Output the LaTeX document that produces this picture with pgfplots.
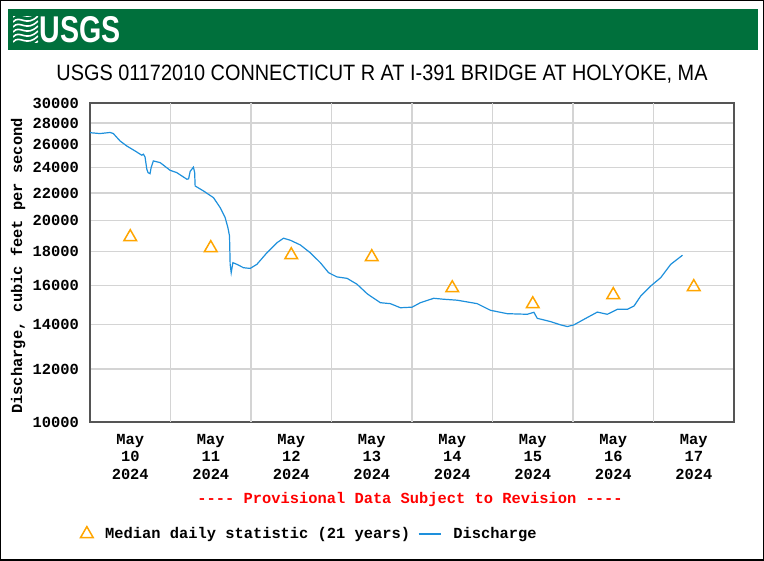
\documentclass[border=0pt]{standalone}
\usepackage{pgfplots}
\pgfplotsset{compat=1.18}
\usepackage{fontspec}
\setmainfont{Liberation Sans}
\newfontfamily\monofont{Liberation Mono}
\newcommand{\tickfont}{\monofont\bfseries\fontsize{15.4bp}{17.6bp}\selectfont}
\definecolor{usgsgreen}{RGB}{0,112,60}
\definecolor{qblue}{RGB}{30,144,220}
\definecolor{medorange}{RGB}{255,165,0}
\definecolor{gridgray}{RGB}{212,212,212}
\definecolor{framegray}{RGB}{85,85,85}

\pgfplotstableread{
d q
0.000 27080
0.124 27000
0.249 27100
0.290 27000
0.373 26320
0.456 25870
0.560 25430
0.643 25060
0.663 25150
0.684 24900
0.705 23900
0.721 23600
0.746 23520
0.759 24000
0.787 24570
0.871 24430
0.995 23790
1.078 23600
1.203 23070
1.225 23100
1.244 23700
1.285 24050
1.300 23600
1.306 22540
1.409 22160
1.534 21650
1.617 20920
1.679 20210
1.713 19530
1.733 18980
1.741 17210
1.754 16720
1.775 17310
1.825 17210
1.907 17010
1.990 16970
2.073 17210
2.198 17910
2.322 18540
2.404 18830
2.488 18700
2.612 18400
2.736 17910
2.861 17310
2.964 16720
3.068 16480
3.193 16400
3.317 16070
3.441 15560
3.483 15430
3.607 15080
3.731 15030
3.856 14820
4.001 14850
4.104 15080
4.270 15310
4.393 15260
4.561 15210
4.810 15030
4.975 14690
5.183 14520
5.432 14490
5.514 14590
5.556 14290
5.721 14130
5.846 13970
5.929 13890
6.011 13970
6.136 14240
6.302 14600
6.426 14490
6.551 14740
6.675 14740
6.758 14910
6.841 15430
6.965 15970
7.090 16440
7.214 17210
7.360 17760
}\discharge

\pgfplotstableread{
d q
0.5 18910
1.5 18210
2.5 17770
3.5 17650
4.5 15860
5.5 15010
6.5 15490
7.5 15920
}\median

\begin{document}
\begin{tikzpicture}[x=1bp,y=1bp]
\useasboundingbox (0,0) rectangle (764,561);
% outer frame
\draw[black, line width=1.5bp] (0.75,0.75) rectangle (763.25,560.25);
% banner
\fill[usgsgreen] (8,510.5) rectangle (758,551.5);
% logo waves
\begin{scope}
\clip (13,518) rectangle (38,544);
\foreach \o in {-8,-3,2,7,12,17,22} {
  \draw[white, line width=1.6bp] (13,522+\o) .. controls (20,530+\o) and (26,516+\o) .. (38,528+\o);
}
\end{scope}
\node[anchor=south west, inner sep=0pt, text=white] at (39.5,518) {\resizebox{81bp}{26bp}{\bfseries USGS}};
% title
\node[anchor=base, inner sep=0pt] at (382,480) {\resizebox{651bp}{15.5bp}{USGS 01172010 CONNECTICUT R AT I-391 BRIDGE AT HOLYOKE, MA}};
% y label
\node[rotate=90, inner sep=0pt, font=\tickfont] at (18,295) {Discharge, cubic feet per second};
% provisional
\node[inner sep=0pt, font=\tickfont, text=red] at (410,61) {---- Provisional Data Subject to Revision ----};

\begin{axis}[
  at={(90bp,139bp)}, anchor=south west,
  scale only axis, width=644bp, height=319bp,
  xmin=0, xmax=8,
  ymode=log, ymin=10000, ymax=30000,
  log basis y=10,
  ytick={10000,12000,14000,16000,18000,20000,22000,24000,26000,28000,30000},
  yticklabels={10000,12000,14000,16000,18000,20000,22000,24000,26000,28000,30000},
  xtick={0.5,1.5,2.5,3.5,4.5,5.5,6.5,7.5},
  xticklabels={{May\\10\\2024},{May\\11\\2024},{May\\12\\2024},{May\\13\\2024},{May\\14\\2024},{May\\15\\2024},{May\\16\\2024},{May\\17\\2024}},
  extra x ticks={1,2,3,4,5,6,7},
  extra x tick labels={},
  extra x tick style={grid=major},
  ymajorgrids=true,
  major grid style={draw=gridgray, line width=1.5bp},
  major tick length=0pt,
  minor tick num=0,
  axis line style={draw=framegray, line width=1.3bp},
  tick label style={font=\tickfont},
  yticklabel style={inner sep=0pt, xshift=-11bp},
  xticklabel style={align=center, inner sep=0pt, yshift=-12bp},
  /pgf/number format/assume math mode=true,
  clip=false,
  legend style={at={(-0.015,-0.351)}, anchor=west, draw=none, fill=none,
    legend columns=2, font=\tickfont, inner sep=0pt,
    /tikz/every odd column/.append style={column sep=10bp},
    /tikz/every even column/.append style={column sep=6bp}},
  legend cell align=left,
]
\addplot[only marks, mark=triangle, mark size=7.3bp, mark options={draw=medorange, line width=1.5bp, fill=none}] table[x=d, y=q] {\median};
\addlegendentry{Median daily statistic (21 years)}
\addplot[qblue, line width=1.2bp, mark=none,
  legend image code/.code={\draw[qblue, line width=1.2bp] (0bp,0bp) -- (22bp,0bp);}] table[x=d, y=q] {\discharge};
\addlegendentry{Discharge}
\end{axis}
\end{tikzpicture}
\end{document}
